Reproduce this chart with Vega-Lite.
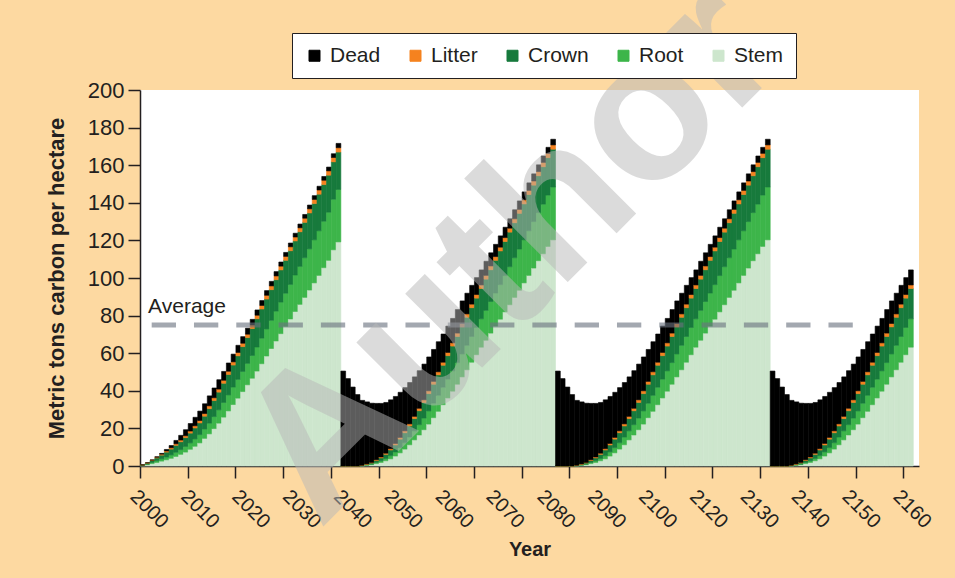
{
  "$schema": "https://vega.github.io/schema/vega-lite/v6.json",
  "width": 779,
  "height": 376,
  "autosize": "none",
  "padding": {"left": 140, "top": 90, "right": 36, "bottom": 112},
  "background": "#fdd9a1",
  "config": {
    "view": {"fill": "white", "stroke": null},
    "font": "Liberation Sans",
    "axis": {"labelFont": "Liberation Sans", "titleFont": "Liberation Sans", "labelColor": "#231f20", "titleColor": "#231f20", "domainColor": "#231f20", "tickColor": "#231f20", "grid": false, "labelOverlap": false},
    "axisY": {"labelOverlap": false}
  },
  "layer": [
    {
      "layer": [
        {
          "data": {"values": [
{"year":2000,"Stem":0.2,"Root":0.1,"Crown":0.2,"Litter":0.1,"Dead":0},
{"year":2001,"Stem":0.7,"Root":0.3,"Crown":0.5,"Litter":0.2,"Dead":0},
{"year":2002,"Stem":1.3,"Root":0.6,"Crown":1.0,"Litter":0.3,"Dead":0},
{"year":2003,"Stem":1.9,"Root":0.9,"Crown":1.5,"Litter":0.4,"Dead":0.2},
{"year":2004,"Stem":2.6,"Root":1.2,"Crown":2.0,"Litter":0.5,"Dead":0.4},
{"year":2005,"Stem":3.3,"Root":1.5,"Crown":2.6,"Litter":0.6,"Dead":0.8},
{"year":2006,"Stem":4.1,"Root":1.8,"Crown":3.1,"Litter":0.7,"Dead":1.2},
{"year":2007,"Stem":5.1,"Root":2.2,"Crown":3.7,"Litter":0.8,"Dead":1.8},
{"year":2008,"Stem":6.2,"Root":2.5,"Crown":4.2,"Litter":0.9,"Dead":2.5},
{"year":2009,"Stem":7.4,"Root":3.0,"Crown":4.7,"Litter":1.0,"Dead":3.2},
{"year":2010,"Stem":8.9,"Root":3.4,"Crown":5.2,"Litter":1.1,"Dead":4.0},
{"year":2011,"Stem":10.5,"Root":3.9,"Crown":5.8,"Litter":1.2,"Dead":4.5},
{"year":2012,"Stem":12.3,"Root":4.4,"Crown":6.2,"Litter":1.3,"Dead":5.0},
{"year":2013,"Stem":14.7,"Root":5.0,"Crown":6.8,"Litter":1.4,"Dead":5.2},
{"year":2014,"Stem":17.1,"Root":5.7,"Crown":7.7,"Litter":1.5,"Dead":5.3},
{"year":2015,"Stem":19.9,"Root":6.4,"Crown":8.5,"Litter":1.5,"Dead":5.2},
{"year":2016,"Stem":22.8,"Root":7.1,"Crown":9.4,"Litter":1.6,"Dead":5.0},
{"year":2017,"Stem":26.0,"Root":7.8,"Crown":10.2,"Litter":1.6,"Dead":4.7},
{"year":2018,"Stem":29.3,"Root":8.5,"Crown":10.9,"Litter":1.7,"Dead":4.4},
{"year":2019,"Stem":32.7,"Root":9.3,"Crown":11.7,"Litter":1.7,"Dead":4.1},
{"year":2020,"Stem":36.1,"Root":10.0,"Crown":12.5,"Litter":1.8,"Dead":3.8},
{"year":2021,"Stem":39.6,"Root":10.7,"Crown":13.2,"Litter":1.8,"Dead":3.5},
{"year":2022,"Stem":43.2,"Root":11.4,"Crown":13.7,"Litter":1.8,"Dead":3.2},
{"year":2023,"Stem":46.7,"Root":12.1,"Crown":14.3,"Litter":1.9,"Dead":3.0},
{"year":2024,"Stem":50.5,"Root":12.8,"Crown":15.0,"Litter":1.9,"Dead":2.8},
{"year":2025,"Stem":54.4,"Root":13.6,"Crown":15.5,"Litter":1.9,"Dead":2.6},
{"year":2026,"Stem":58.5,"Root":14.4,"Crown":15.9,"Litter":2.0,"Dead":2.5},
{"year":2027,"Stem":62.5,"Root":15.0,"Crown":16.3,"Litter":2.0,"Dead":2.4},
{"year":2028,"Stem":66.5,"Root":15.9,"Crown":16.7,"Litter":2.0,"Dead":2.3},
{"year":2029,"Stem":70.4,"Root":16.8,"Crown":17.1,"Litter":2.0,"Dead":2.2},
{"year":2030,"Stem":74.3,"Root":17.6,"Crown":17.5,"Litter":2.1,"Dead":2.1},
{"year":2031,"Stem":78.2,"Root":18.4,"Crown":17.9,"Litter":2.1,"Dead":2.0},
{"year":2032,"Stem":82.2,"Root":19.4,"Crown":18.1,"Litter":2.1,"Dead":2.0},
{"year":2033,"Stem":86.0,"Root":20.2,"Crown":18.4,"Litter":2.1,"Dead":2.0},
{"year":2034,"Stem":89.7,"Root":21.1,"Crown":18.8,"Litter":2.2,"Dead":2.0},
{"year":2035,"Stem":93.6,"Root":21.9,"Crown":19.1,"Litter":2.2,"Dead":2.0},
{"year":2036,"Stem":97.4,"Root":22.9,"Crown":19.3,"Litter":2.2,"Dead":2.0},
{"year":2037,"Stem":101.4,"Root":23.7,"Crown":19.5,"Litter":2.2,"Dead":2.0},
{"year":2038,"Stem":105.5,"Root":24.7,"Crown":19.5,"Litter":2.3,"Dead":2.0},
{"year":2039,"Stem":109.4,"Root":25.6,"Crown":19.7,"Litter":2.3,"Dead":2.0},
{"year":2040,"Stem":115.0,"Root":26.9,"Crown":19.9,"Litter":2.3,"Dead":2.0},
{"year":2041,"Stem":119.2,"Root":27.9,"Crown":19.9,"Litter":2.3,"Dead":2.3},
{"year":2042,"Stem":0,"Root":0,"Crown":0,"Litter":0,"Dead":50.5},
{"year":2043,"Stem":0,"Root":0,"Crown":0,"Litter":0,"Dead":46.5},
{"year":2044,"Stem":0,"Root":0,"Crown":0,"Litter":0,"Dead":42},
{"year":2045,"Stem":0,"Root":0,"Crown":0,"Litter":0,"Dead":38},
{"year":2046,"Stem":0.1,"Root":0.1,"Crown":0.1,"Litter":0.1,"Dead":34.5},
{"year":2047,"Stem":0.4,"Root":0.2,"Crown":0.3,"Litter":0.2,"Dead":33},
{"year":2048,"Stem":0.7,"Root":0.3,"Crown":0.6,"Litter":0.3,"Dead":31.5},
{"year":2049,"Stem":1.3,"Root":0.6,"Crown":1.0,"Litter":0.4,"Dead":30},
{"year":2050,"Stem":1.9,"Root":0.9,"Crown":1.5,"Litter":0.5,"Dead":28.5},
{"year":2051,"Stem":2.8,"Root":1.2,"Crown":2.2,"Litter":0.6,"Dead":27},
{"year":2052,"Stem":3.8,"Root":1.7,"Crown":3.0,"Litter":0.7,"Dead":26},
{"year":2053,"Stem":5.3,"Root":2.2,"Crown":3.7,"Litter":0.8,"Dead":25},
{"year":2054,"Stem":7.0,"Root":2.8,"Crown":4.5,"Litter":0.9,"Dead":24},
{"year":2055,"Stem":9.0,"Root":3.4,"Crown":5.3,"Litter":1.0,"Dead":23},
{"year":2056,"Stem":11.3,"Root":4.1,"Crown":5.9,"Litter":1.1,"Dead":22},
{"year":2057,"Stem":13.9,"Root":4.8,"Crown":6.5,"Litter":1.2,"Dead":21},
{"year":2058,"Stem":16.5,"Root":5.5,"Crown":7.4,"Litter":1.3,"Dead":20},
{"year":2059,"Stem":19.3,"Root":6.2,"Crown":8.3,"Litter":1.4,"Dead":19},
{"year":2060,"Stem":22.3,"Root":7.0,"Crown":9.2,"Litter":1.5,"Dead":18},
{"year":2061,"Stem":25.7,"Root":7.7,"Crown":10.1,"Litter":1.5,"Dead":17},
{"year":2062,"Stem":29.1,"Root":8.5,"Crown":10.9,"Litter":1.6,"Dead":16},
{"year":2063,"Stem":32.6,"Root":9.3,"Crown":11.7,"Litter":1.6,"Dead":15},
{"year":2064,"Stem":36.2,"Root":10.0,"Crown":12.5,"Litter":1.7,"Dead":14},
{"year":2065,"Stem":39.8,"Root":10.8,"Crown":13.2,"Litter":1.7,"Dead":13},
{"year":2066,"Stem":43.5,"Root":11.5,"Crown":13.9,"Litter":1.8,"Dead":12.5},
{"year":2067,"Stem":47.4,"Root":12.2,"Crown":14.4,"Litter":1.8,"Dead":12},
{"year":2068,"Stem":51.2,"Root":13.0,"Crown":14.9,"Litter":1.8,"Dead":11},
{"year":2069,"Stem":55.2,"Root":13.7,"Crown":15.3,"Litter":1.9,"Dead":10},
{"year":2070,"Stem":59.2,"Root":14.5,"Crown":15.6,"Litter":1.9,"Dead":9},
{"year":2071,"Stem":63.2,"Root":15.1,"Crown":16.1,"Litter":1.9,"Dead":8},
{"year":2072,"Stem":66.9,"Root":15.9,"Crown":16.6,"Litter":2.0,"Dead":7.5},
{"year":2073,"Stem":70.7,"Root":16.8,"Crown":16.9,"Litter":2.0,"Dead":7},
{"year":2074,"Stem":74.4,"Root":17.6,"Crown":17.4,"Litter":2.0,"Dead":6.5},
{"year":2075,"Stem":78.1,"Root":18.4,"Crown":17.9,"Litter":2.0,"Dead":6},
{"year":2076,"Stem":82.0,"Root":19.3,"Crown":18.1,"Litter":2.1,"Dead":5.5},
{"year":2077,"Stem":85.8,"Root":20.2,"Crown":18.4,"Litter":2.1,"Dead":5},
{"year":2078,"Stem":89.7,"Root":21.1,"Crown":18.6,"Litter":2.1,"Dead":4.8},
{"year":2079,"Stem":93.5,"Root":21.9,"Crown":19.0,"Litter":2.1,"Dead":4.5},
{"year":2080,"Stem":97.4,"Root":22.9,"Crown":19.1,"Litter":2.2,"Dead":4.2},
{"year":2081,"Stem":101.4,"Root":23.7,"Crown":19.3,"Litter":2.2,"Dead":4},
{"year":2082,"Stem":105.3,"Root":24.7,"Crown":19.4,"Litter":2.2,"Dead":3.8},
{"year":2083,"Stem":109.2,"Root":25.6,"Crown":19.6,"Litter":2.2,"Dead":3.6},
{"year":2084,"Stem":112.9,"Root":26.4,"Crown":19.9,"Litter":2.3,"Dead":3.4},
{"year":2085,"Stem":116.8,"Root":27.3,"Crown":19.9,"Litter":2.3,"Dead":3.2},
{"year":2086,"Stem":120.3,"Root":28.1,"Crown":20.1,"Litter":2.3,"Dead":3},
{"year":2087,"Stem":0,"Root":0,"Crown":0,"Litter":0,"Dead":50.5},
{"year":2088,"Stem":0,"Root":0,"Crown":0,"Litter":0,"Dead":46.5},
{"year":2089,"Stem":0,"Root":0,"Crown":0,"Litter":0,"Dead":42},
{"year":2090,"Stem":0,"Root":0,"Crown":0,"Litter":0,"Dead":38},
{"year":2091,"Stem":0.1,"Root":0.1,"Crown":0.1,"Litter":0.1,"Dead":34.5},
{"year":2092,"Stem":0.4,"Root":0.2,"Crown":0.3,"Litter":0.2,"Dead":33},
{"year":2093,"Stem":0.7,"Root":0.3,"Crown":0.6,"Litter":0.3,"Dead":31.5},
{"year":2094,"Stem":1.3,"Root":0.6,"Crown":1.0,"Litter":0.4,"Dead":30},
{"year":2095,"Stem":1.9,"Root":0.9,"Crown":1.5,"Litter":0.5,"Dead":28.5},
{"year":2096,"Stem":2.8,"Root":1.2,"Crown":2.2,"Litter":0.6,"Dead":27},
{"year":2097,"Stem":3.8,"Root":1.7,"Crown":3.0,"Litter":0.7,"Dead":26},
{"year":2098,"Stem":5.3,"Root":2.2,"Crown":3.7,"Litter":0.8,"Dead":25},
{"year":2099,"Stem":7.0,"Root":2.8,"Crown":4.5,"Litter":0.9,"Dead":24},
{"year":2100,"Stem":9.0,"Root":3.4,"Crown":5.3,"Litter":1.0,"Dead":23},
{"year":2101,"Stem":11.3,"Root":4.1,"Crown":5.9,"Litter":1.1,"Dead":22},
{"year":2102,"Stem":13.9,"Root":4.8,"Crown":6.5,"Litter":1.2,"Dead":21},
{"year":2103,"Stem":16.5,"Root":5.5,"Crown":7.4,"Litter":1.3,"Dead":20},
{"year":2104,"Stem":19.3,"Root":6.2,"Crown":8.3,"Litter":1.4,"Dead":19},
{"year":2105,"Stem":22.3,"Root":7.0,"Crown":9.2,"Litter":1.5,"Dead":18},
{"year":2106,"Stem":25.7,"Root":7.7,"Crown":10.1,"Litter":1.5,"Dead":17},
{"year":2107,"Stem":29.1,"Root":8.5,"Crown":10.9,"Litter":1.6,"Dead":16},
{"year":2108,"Stem":32.6,"Root":9.3,"Crown":11.7,"Litter":1.6,"Dead":15},
{"year":2109,"Stem":36.2,"Root":10.0,"Crown":12.5,"Litter":1.7,"Dead":14},
{"year":2110,"Stem":39.8,"Root":10.8,"Crown":13.2,"Litter":1.7,"Dead":13},
{"year":2111,"Stem":43.5,"Root":11.5,"Crown":13.9,"Litter":1.8,"Dead":12.5},
{"year":2112,"Stem":47.4,"Root":12.2,"Crown":14.4,"Litter":1.8,"Dead":12},
{"year":2113,"Stem":51.2,"Root":13.0,"Crown":14.9,"Litter":1.8,"Dead":11},
{"year":2114,"Stem":55.2,"Root":13.7,"Crown":15.3,"Litter":1.9,"Dead":10},
{"year":2115,"Stem":59.2,"Root":14.5,"Crown":15.6,"Litter":1.9,"Dead":9},
{"year":2116,"Stem":63.2,"Root":15.1,"Crown":16.1,"Litter":1.9,"Dead":8},
{"year":2117,"Stem":66.9,"Root":15.9,"Crown":16.6,"Litter":2.0,"Dead":7.5},
{"year":2118,"Stem":70.7,"Root":16.8,"Crown":16.9,"Litter":2.0,"Dead":7},
{"year":2119,"Stem":74.4,"Root":17.6,"Crown":17.4,"Litter":2.0,"Dead":6.5},
{"year":2120,"Stem":78.1,"Root":18.4,"Crown":17.9,"Litter":2.0,"Dead":6},
{"year":2121,"Stem":82.0,"Root":19.3,"Crown":18.1,"Litter":2.1,"Dead":5.5},
{"year":2122,"Stem":85.8,"Root":20.2,"Crown":18.4,"Litter":2.1,"Dead":5},
{"year":2123,"Stem":89.7,"Root":21.1,"Crown":18.6,"Litter":2.1,"Dead":4.8},
{"year":2124,"Stem":93.5,"Root":21.9,"Crown":19.0,"Litter":2.1,"Dead":4.5},
{"year":2125,"Stem":97.4,"Root":22.9,"Crown":19.1,"Litter":2.2,"Dead":4.2},
{"year":2126,"Stem":101.4,"Root":23.7,"Crown":19.3,"Litter":2.2,"Dead":4},
{"year":2127,"Stem":105.3,"Root":24.7,"Crown":19.4,"Litter":2.2,"Dead":3.8},
{"year":2128,"Stem":109.2,"Root":25.6,"Crown":19.6,"Litter":2.2,"Dead":3.6},
{"year":2129,"Stem":112.9,"Root":26.4,"Crown":19.9,"Litter":2.3,"Dead":3.4},
{"year":2130,"Stem":116.8,"Root":27.3,"Crown":19.9,"Litter":2.3,"Dead":3.2},
{"year":2131,"Stem":120.3,"Root":28.1,"Crown":20.1,"Litter":2.3,"Dead":3},
{"year":2132,"Stem":0,"Root":0,"Crown":0,"Litter":0,"Dead":50.5},
{"year":2133,"Stem":0,"Root":0,"Crown":0,"Litter":0,"Dead":46.5},
{"year":2134,"Stem":0,"Root":0,"Crown":0,"Litter":0,"Dead":42},
{"year":2135,"Stem":0,"Root":0,"Crown":0,"Litter":0,"Dead":38},
{"year":2136,"Stem":0.1,"Root":0.1,"Crown":0.1,"Litter":0.1,"Dead":34.5},
{"year":2137,"Stem":0.4,"Root":0.2,"Crown":0.3,"Litter":0.2,"Dead":33},
{"year":2138,"Stem":0.7,"Root":0.3,"Crown":0.6,"Litter":0.3,"Dead":31.5},
{"year":2139,"Stem":1.3,"Root":0.6,"Crown":1.0,"Litter":0.4,"Dead":30},
{"year":2140,"Stem":1.9,"Root":0.9,"Crown":1.5,"Litter":0.5,"Dead":28.5},
{"year":2141,"Stem":2.8,"Root":1.2,"Crown":2.2,"Litter":0.6,"Dead":27},
{"year":2142,"Stem":3.8,"Root":1.7,"Crown":3.0,"Litter":0.7,"Dead":26},
{"year":2143,"Stem":5.3,"Root":2.2,"Crown":3.7,"Litter":0.8,"Dead":25},
{"year":2144,"Stem":7.0,"Root":2.8,"Crown":4.5,"Litter":0.9,"Dead":24},
{"year":2145,"Stem":9.0,"Root":3.4,"Crown":5.3,"Litter":1.0,"Dead":23},
{"year":2146,"Stem":11.3,"Root":4.1,"Crown":5.9,"Litter":1.1,"Dead":22},
{"year":2147,"Stem":13.9,"Root":4.8,"Crown":6.5,"Litter":1.2,"Dead":21},
{"year":2148,"Stem":16.5,"Root":5.5,"Crown":7.4,"Litter":1.3,"Dead":20},
{"year":2149,"Stem":19.3,"Root":6.2,"Crown":8.3,"Litter":1.4,"Dead":19},
{"year":2150,"Stem":22.3,"Root":7.0,"Crown":9.2,"Litter":1.5,"Dead":18},
{"year":2151,"Stem":25.7,"Root":7.7,"Crown":10.1,"Litter":1.5,"Dead":17},
{"year":2152,"Stem":29.1,"Root":8.5,"Crown":10.9,"Litter":1.6,"Dead":16},
{"year":2153,"Stem":32.6,"Root":9.3,"Crown":11.7,"Litter":1.6,"Dead":15},
{"year":2154,"Stem":36.2,"Root":10.0,"Crown":12.5,"Litter":1.7,"Dead":14},
{"year":2155,"Stem":39.8,"Root":10.8,"Crown":13.2,"Litter":1.7,"Dead":13},
{"year":2156,"Stem":43.5,"Root":11.5,"Crown":13.9,"Litter":1.8,"Dead":12.5},
{"year":2157,"Stem":47.4,"Root":12.2,"Crown":14.4,"Litter":1.8,"Dead":12},
{"year":2158,"Stem":51.2,"Root":13.0,"Crown":14.9,"Litter":1.8,"Dead":11},
{"year":2159,"Stem":55.2,"Root":13.7,"Crown":15.3,"Litter":1.9,"Dead":10},
{"year":2160,"Stem":59.2,"Root":14.5,"Crown":15.6,"Litter":1.9,"Dead":9},
{"year":2161,"Stem":63.2,"Root":15.1,"Crown":16.1,"Litter":1.9,"Dead":8}
          ]},
          "transform": [
            {"fold": ["Stem", "Root", "Crown", "Litter", "Dead"], "as": ["part", "carbon"]},
            {"lookup": "part", "from": {"data": {"values": [{"part": "Stem", "rank": 1}, {"part": "Root", "rank": 2}, {"part": "Crown", "rank": 3}, {"part": "Litter", "rank": 4}, {"part": "Dead", "rank": 5}]}, "key": "part", "fields": ["rank"]}}
          ],
          "mark": {"type": "bar", "binSpacing": 0, "strokeWidth": 0.6},
          "encoding": {
            "x": {"field": "year", "type": "quantitative", "bin": {"binned": true, "step": 1},
                  "scale": {"domain": [2000, 2163.3], "nice": false, "zero": false},
                  "axis": {"orient": "bottom", "values": [2000,2010,2020,2030,2040,2050,2060,2070,2080,2090,2100,2110,2120,2130,2140,2150,2160], "labels": false, "ticks": true, "tickSize": 12, "tickWidth": 1.5, "domainWidth": 1.5, "title": null}},
            "y": {"field": "carbon", "type": "quantitative", "stack": "zero",
                  "scale": {"domain": [0, 200], "nice": false},
                  "axis": {"values": [0,20,40,60,80,100,120,140,160,180,200], "labelOverlap": false, "tickSize": 12, "tickWidth": 1.5, "domainWidth": 1.5, "labelFontSize": 22, "labelPadding": 4, "title": "Metric tons carbon per hectare", "titleFontSize": 22, "titleFontWeight": "bold", "titlePadding": 19}},
            "color": {"field": "part", "type": "nominal",
                      "scale": {"domain": ["Dead", "Litter", "Crown", "Root", "Stem"], "range": ["#000000", "#f5821f", "#177a3c", "#3db54a", "#cde6cd"]},
                      "legend": {"orient": "none", "legendX": 152, "legendY": -57, "direction": "horizontal", "title": null, "symbolType": "square", "symbolSize": 121, "symbolStrokeColor": "#231f20", "symbolStrokeWidth": 1, "labelFontSize": 21, "labelFont": "Liberation Sans", "labelColor": "#231f20", "labelOffset": 5, "columnPadding": 24, "padding": 12, "fillColor": "white", "strokeColor": "#231f20", "cornerRadius": 0}},
            "stroke": {"field": "part", "type": "nominal",
                      "scale": {"domain": ["Dead", "Litter", "Crown", "Root", "Stem"], "range": ["#000000", "#f5821f", "#177a3c", "#3db54a", "#cde6cd"]},
                      "legend": null},
            "order": {"field": "rank", "type": "quantitative"}
          }
        },
        {
          "data": {"values": [{}]},
          "mark": {"type": "rule", "color": "#6b7280", "strokeOpacity": 0.62, "strokeWidth": 5, "strokeDash": [24.3, 18]},
          "encoding": {
            "x": {"datum": 2002.45, "type": "quantitative", "axis": {"orient": "bottom", "values": [2000,2010,2020,2030,2040,2050,2060,2070,2080,2090,2100,2110,2120,2130,2140,2150,2160], "labels": false, "ticks": true, "tickSize": 12, "tickWidth": 1.5, "domainWidth": 1.5, "title": null}},
            "x2": {"datum": 2149.55},
            "y": {"datum": 75, "type": "quantitative", "axis": {"values": [0,20,40,60,80,100,120,140,160,180,200], "labelOverlap": false, "tickSize": 12, "tickWidth": 1.5, "domainWidth": 1.5, "labelFontSize": 22, "labelPadding": 4, "title": "Metric tons carbon per hectare", "titleFontSize": 22, "titleFontWeight": "bold", "titlePadding": 19}}
          }
        },
        {
          "data": {"values": [{}]},
          "mark": {"type": "text", "text": "Average", "fontSize": 21, "font": "Liberation Sans", "color": "#231f20", "align": "left", "baseline": "alphabetic"},
          "encoding": {
            "x": {"datum": 2001.7, "type": "quantitative", "axis": {"orient": "bottom", "values": [2000,2010,2020,2030,2040,2050,2060,2070,2080,2090,2100,2110,2120,2130,2140,2150,2160], "labels": false, "ticks": true, "tickSize": 12, "tickWidth": 1.5, "domainWidth": 1.5, "title": null}},
            "y": {"datum": 81.5, "type": "quantitative", "axis": {"values": [0,20,40,60,80,100,120,140,160,180,200], "labelOverlap": false, "tickSize": 12, "tickWidth": 1.5, "domainWidth": 1.5, "labelFontSize": 22, "labelPadding": 4, "title": "Metric tons carbon per hectare", "titleFontSize": 22, "titleFontWeight": "bold", "titlePadding": 19}}
          }
        },
        {
          "data": {"values": [{}]},
          "mark": {"type": "text", "text": "Author", "fontSize": 202, "font": "Liberation Sans", "fontWeight": "bold", "angle": 315, "align": "left", "baseline": "alphabetic", "color": "#b8b8b8", "opacity": 0.5},
          "encoding": {
            "x": {"datum": 2037.7, "type": "quantitative", "axis": {"orient": "bottom", "values": [2000,2010,2020,2030,2040,2050,2060,2070,2080,2090,2100,2110,2120,2130,2140,2150,2160], "labels": false, "ticks": true, "tickSize": 12, "tickWidth": 1.5, "domainWidth": 1.5, "title": null}},
            "y": {"datum": -34, "type": "quantitative", "axis": {"values": [0,20,40,60,80,100,120,140,160,180,200], "labelOverlap": false, "tickSize": 12, "tickWidth": 1.5, "domainWidth": 1.5, "labelFontSize": 22, "labelPadding": 4, "title": "Metric tons carbon per hectare", "titleFontSize": 22, "titleFontWeight": "bold", "titlePadding": 19}}
          }
        }
      ]
    },
    {
      "data": {"values": [{"label":"2000"},{"label":"2010"},{"label":"2020"},{"label":"2030"},{"label":"2040"},{"label":"2050"},{"label":"2060"},{"label":"2070"},{"label":"2080"},{"label":"2090"},{"label":"2100"},{"label":"2120"},{"label":"2130"},{"label":"2140"},{"label":"2150"},{"label":"2160"}]},
      "mark": {"type": "point", "opacity": 0},
      "encoding": {
        "x": {"field": "label", "type": "ordinal", "sort": null,
              "scale": {"type": "point", "padding": 0.157, "align": 0},
              "axis": {"orient": "bottom", "labelAngle": 45, "labelAlign": "left", "labelBaseline": "top", "labelFontSize": 20, "labelPadding": 20, "ticks": false, "tickSize": 0, "domain": false, "title": "Year", "titleFontSize": 20, "titleFontWeight": "bold", "titlePadding": 8}}
      }
    }
  ],
  "resolve": {"scale": {"x": "independent"}}
}
